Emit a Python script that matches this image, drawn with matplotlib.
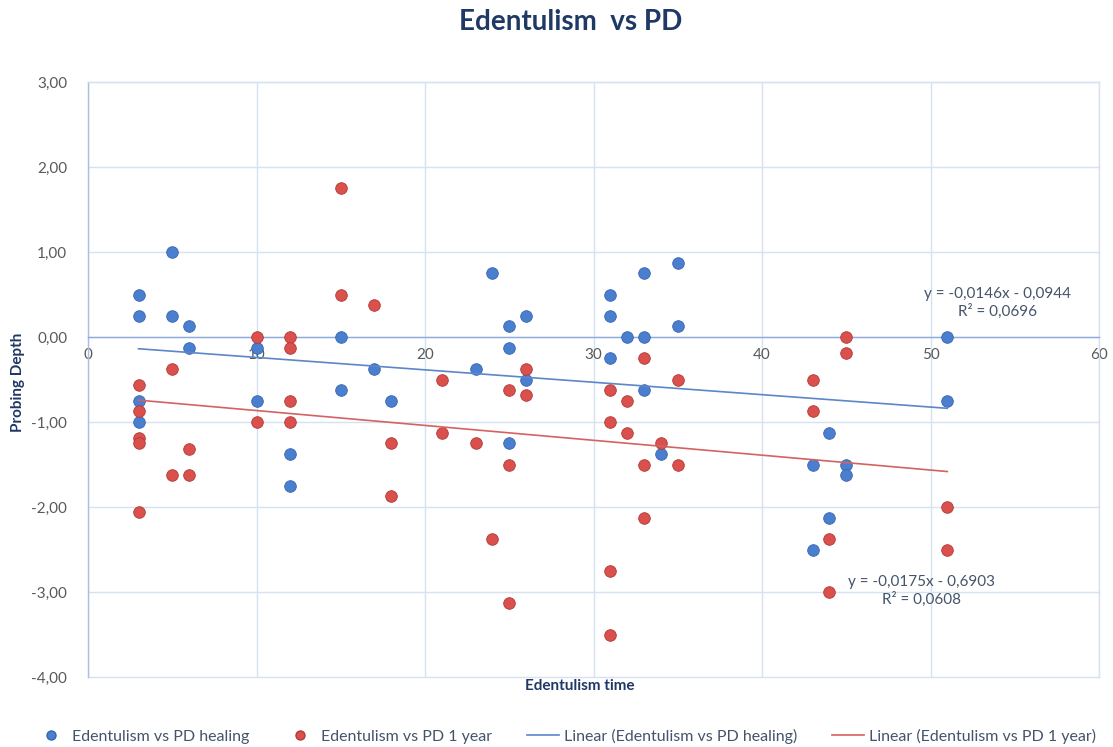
import matplotlib
matplotlib.use("Agg")
import matplotlib.pyplot as plt
from matplotlib.lines import Line2D
from matplotlib.ticker import FuncFormatter, MultipleLocator

# ---- data ----
healing_x = [3, 3, 3, 3, 5, 5, 6, 6, 10, 10, 12, 12, 15, 15, 17, 18, 23, 24,
             25, 25, 25, 26, 26, 31, 31, 31, 32, 33, 33, 33, 34, 35, 35,
             43, 43, 44, 44, 45, 45, 51, 51]
healing_y = [0.5, 0.25, -0.75, -1.0, 1.0, 0.25, 0.125, -0.125, -0.125, -0.75,
             -1.375, -1.75, 0.0, -0.625, -0.375, -0.75, -0.375, 0.75,
             0.125, -0.125, -1.25, 0.25, -0.5, 0.5, 0.25, -0.25, 0.0, 0.75, 0.0,
             -0.625, -1.375, 0.875, 0.125, -1.5, -2.5, -1.125, -2.125, -1.5,
             -1.625, 0.0, -0.75]

year_x = [3, 3, 3, 3, 3, 5, 5, 6, 6, 10, 10, 12, 12, 12, 12, 15, 15, 17, 18, 18,
          21, 21, 23, 24, 25, 25, 25, 26, 26, 31, 31, 31, 31, 32, 32, 33, 33, 33,
          34, 35, 35, 43, 43, 44, 44, 45, 45, 51, 51]
year_y = [-0.5625, -0.875, -1.1875, -1.25, -2.0625, -0.375, -1.625, -1.3125,
          -1.625, 0.0, -1.0, 0.0, -0.125, -0.75, -1.0, 1.75, 0.5, 0.375, -1.25,
          -1.875, -0.5, -1.125, -1.25, -2.375, -0.625, -1.5, -3.125, -0.375,
          -0.6875, -0.625, -1.0, -2.75, -3.5, -0.75, -1.125, -0.25, -1.5, -2.125,
          -1.25, -0.5, -1.5, -0.5, -0.875, -2.375, -3.0, 0.0, -0.1875, -2.0, -2.5]

# trendline coefficients as printed on the chart
healing_slope, healing_icpt, healing_r2 = -0.0146, -0.0944, 0.0696
year_slope, year_icpt, year_r2 = -0.0175, -0.6903, 0.0608

title = "Edentulism  vs PD"
xlabel = "Edentulism time"
ylabel = "Probing Depth"
labels = ["Edentulism vs PD healing", "Edentulism vs PD 1 year",
          "Linear (Edentulism vs PD healing)", "Linear (Edentulism vs PD 1 year)"]

# ---- style ----
BLUE = "#4A7FD0"
BLUE_E = "#3865AE"
RED = "#D9504D"
RED_E = "#B23A37"
LBLUE = "#5B86C8"
LRED = "#D46262"
GRID = "#D6E2F1"
NAVY = "#1F3864"
TICK = "#595959"
SLATE = "#44546A"

plt.rcParams["font.family"] = ["Lato", "DejaVu Sans"]

fig = plt.figure(figsize=(11.13, 7.47), dpi=100)
ax = fig.add_axes([88 / 1113, 70 / 747, (1099 - 88) / 1113, (677 - 82) / 747])

ax.set_xlim(0, 60)
ax.set_ylim(-4, 3)
ax.xaxis.set_major_locator(MultipleLocator(10))
ax.yaxis.set_major_locator(MultipleLocator(1))
ax.yaxis.set_major_formatter(FuncFormatter(lambda v, p: f"{v:.2f}".replace(".", ",")))
ax.xaxis.set_major_formatter(FuncFormatter(lambda v, p: f"{v:.0f}"))

ax.grid(True, color=GRID, linewidth=1.0, zorder=0)
for gl in ax.get_xgridlines() + ax.get_ygridlines():
    gl.set_clip_on(False)

ax.spines["bottom"].set_position(("data", 0))
ax.spines["bottom"].set_color("#8FAADC")
ax.spines["left"].set_color("#A9BEE0")
ax.spines["top"].set_color(GRID)
ax.spines["right"].set_color(GRID)
for s in ax.spines.values():
    s.set_linewidth(1.0)
ax.tick_params(axis="both", length=0, colors=TICK, labelsize=11)
ax.tick_params(axis="x", pad=8)
ax.tick_params(axis="y", pad=15)

ax.scatter(healing_x, healing_y, s=70, color=BLUE, edgecolors=BLUE_E,
           linewidths=0.6, zorder=3)
ax.scatter(year_x, year_y, s=70, color=RED, edgecolors=RED_E,
           linewidths=0.6, zorder=3)

xs = [min(healing_x), max(healing_x)]
ax.plot(xs, [healing_slope * x + healing_icpt for x in xs], color=LBLUE, lw=1.2, zorder=4)
xs2 = [min(year_x), max(year_x)]
ax.plot(xs2, [year_slope * x + year_icpt for x in xs2], color=LRED, lw=1.2, zorder=4)


def fmt(v):
    return f"{v:.4f}".replace(".", ",")


eq1 = f"y = {fmt(healing_slope)}x - {fmt(abs(healing_icpt))}\nR² = {fmt(healing_r2)}"
eq2 = f"y = {fmt(year_slope)}x - {fmt(abs(year_icpt))}\nR² = {fmt(year_r2)}"
fig.text(998 / 1113, 1 - 303 / 747, eq1, fontsize=11, color=SLATE,
         ha="center", va="center", linespacing=1.3)
fig.text(921 / 1113, 1 - 591 / 747, eq2, fontsize=11, color=SLATE,
         ha="center", va="center", linespacing=1.3)

fig.text(571 / 1113, 1 - 22 / 747, title, fontsize=20, fontweight="bold",
         color=NAVY, ha="center", va="center")
fig.text(580 / 1113, 1 - 686 / 747, xlabel, fontsize=11, fontweight="bold",
         color=NAVY, ha="center", va="center")
fig.text(18 / 1113, 1 - 382 / 747, ylabel, fontsize=11, fontweight="bold",
         color=NAVY, ha="center", va="center", rotation=90)

handles = [
    Line2D([], [], ls="none", marker="o", markersize=6.5, color=BLUE, mec=BLUE_E),
    Line2D([], [], ls="none", marker="o", markersize=6.5, color=RED, mec=RED_E),
    Line2D([], [], color=LBLUE, lw=1.2),
    Line2D([], [], color=LRED, lw=1.2),
]
leg = fig.legend(handles, labels, loc="center", bbox_to_anchor=(0.508, 1 - 736 / 747),
                 ncol=4, frameon=False, fontsize=11.5, handlelength=2.0,
                 handletextpad=0.3, columnspacing=2.2)
for t in leg.get_texts():
    t.set_color(SLATE)

fig.savefig("out.png", dpi=100, facecolor="white")
